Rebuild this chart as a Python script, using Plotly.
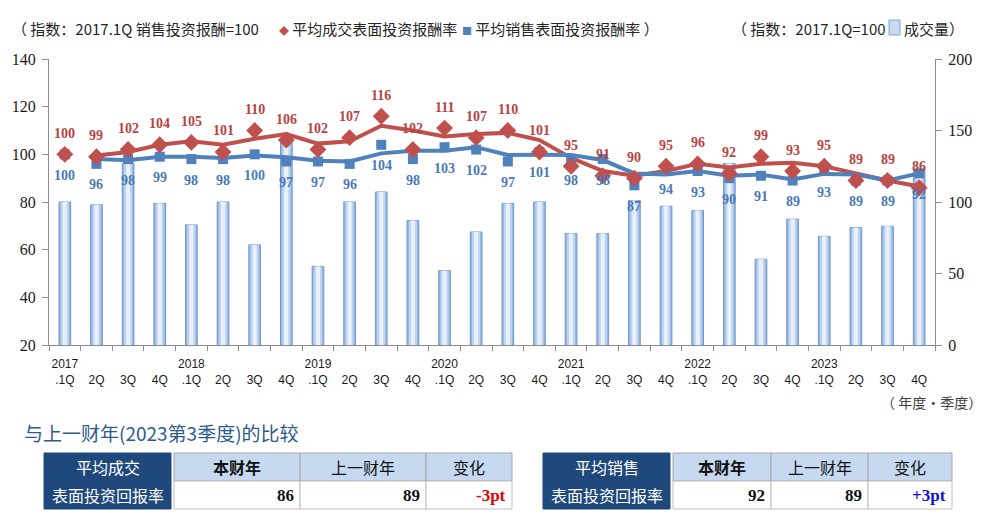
import plotly.graph_objects as go

# ---------------- data ----------------
years = ["2017", "2018", "2019", "2020", "2021", "2022", "2023"]
quarter_names = ["1Q", "2Q", "3Q", "4Q"]
categories = [f"{y}.{q}" for y in years for q in quarter_names]
tick_text = []
for y in years:
    tick_text += [f"{y}<br>.1Q", " <br>2Q", " <br>3Q", " <br>4Q"]

deal_rate = [100, 99, 102, 104, 105, 101, 110, 106, 102, 107, 116, 102, 111, 107,
             110, 101, 95, 91, 90, 95, 96, 92, 99, 93, 95, 89, 89, 86]
sale_rate = [100, 96, 98, 99, 98, 98, 100, 97, 97, 96, 104, 98, 103, 102,
             97, 101, 98, 98, 87, 94, 93, 90, 91, 89, 93, 89, 89, 92]
deal_trend = [None, 99.5, 101, 104, 105.5, 104, 106.5, 108.5, 104.5, 105.5, 112, 110, 107.5, 108.5,
              109, 106, 98.5, 93, 91, 93, 96, 94.5, 96, 96.5, 95, 92, 89, 86.5]
sale_trend = [None, 98, 97.5, 99, 99, 98.5, 99.5, 98.8, 97.3, 97, 100.4, 101.5, 101.5, 103,
              99.7, 99.8, 99.7, 97.6, 92, 91.5, 93, 91, 91.5, 89.5, 91.8, 91.5, 89, 92]
volume = [100, 98, 127, 99, 84, 100, 70, 144, 55, 100, 107, 87, 52, 79,
          99, 100, 78, 78, 101, 97, 94, 127, 60, 88, 76, 82, 83, 122]

left_ticks = [20, 40, 60, 80, 100, 120, 140]
right_ticks = [0, 50, 100, 150, 200]

table_headers = ["本财年", "上一财年", "变化"]
deal_table = ["86", "89", "-3pt"]
sale_table = ["92", "89", "+3pt"]

# ---------------- styles ----------------
RED = "#c0504d"
RED_TXT = "#b9433f"
BLUE = "#4f81bd"
BLUE_TXT = "#4a7ab5"
SERIF = "Liberation Serif"
SANS = "Liberation Sans"
CJK = "Noto Sans CJK SC"
W, H = 983, 529
ML, MR, MT, MB = 49, 48, 59, 184
PW, PH = W - ML - MR, H - MT - MB


def px(x):
    return (x - ML) / PW


def py(y):
    return (H - MB - y) / PH


fig = go.Figure()

# bars (primary y, drawn underneath), layered for a cylinder look
for wdt, col, lc in [(0.37, "#94b6e2", "#7099cf"), (0.26, "#bdd3ef", "rgba(0,0,0,0)"),
                     (0.13, "#e9f0fa", "rgba(0,0,0,0)")]:
    fig.add_trace(go.Bar(x=categories, y=volume, width=wdt, yaxis="y",
                         marker=dict(color=col, line=dict(color=lc, width=1)),
                         hoverinfo="skip"))

# lines (secondary y, drawn on top)
fig.add_trace(go.Scatter(x=categories, y=deal_trend, mode="lines", yaxis="y2",
                         line=dict(color=RED, width=4)))
fig.add_trace(go.Scatter(x=categories, y=sale_trend, mode="lines", yaxis="y2",
                         line=dict(color=BLUE, width=4)))
fig.add_trace(go.Scatter(x=categories, y=sale_rate, mode="markers", yaxis="y2",
                         marker=dict(symbol="square", size=10, color=BLUE)))
fig.add_trace(go.Scatter(x=categories, y=deal_rate, mode="markers", yaxis="y2",
                         marker=dict(symbol="diamond", size=13, color=RED)))

ann = []
for c, v in zip(categories, deal_rate):
    ann.append(dict(x=c, y=v, xref="x", yref="y2", text=str(v), showarrow=False,
                    xanchor="center", yanchor="middle",
                    yshift=21, font=dict(family=SERIF, size=14, color=RED_TXT, weight="bold")))
for c, v in zip(categories, sale_rate):
    ann.append(dict(x=c, y=v, xref="x", yref="y2", text=str(v), showarrow=False,
                    xanchor="center", yanchor="middle",
                    yshift=-21, font=dict(family=SERIF, size=14, color=BLUE_TXT, weight="bold")))


def note(x, y, text, font, xanchor="left"):
    ann.append(dict(x=px(x), y=py(y), xref="paper", yref="paper", xanchor=xanchor,
                    yanchor="middle", showarrow=False, font=font, text=text))


# header texts
hdr_font = dict(family=CJK, size=15, color="#262626")
note(10, 28, "（ 指数：2017.1Q 销售投资报酬=100", hdr_font)
note(277, 28, f"<span style='color:{RED};font-size:10px'>◆</span> 平均成交表面投资报酬率", hdr_font)
note(460, 28, f"<span style='color:{BLUE};font-size:10px'>■</span> 平均销售表面投资报酬率 ）", hdr_font)
note(730, 28, "（ 指数：2017.1Q=100", hdr_font)
note(902, 28, "成交量）", hdr_font)
note(984, 402, "（ 年度·季度）", dict(family=CJK, size=14, color="#404040"), xanchor="right")
note(22, 432, "与上一财年(2023第3季度)的比较", dict(family=CJK, size=19, color="#2e5a8a"))

shapes = []
# legend bar icon
shapes.append(dict(type="rect", xref="paper", yref="paper", x0=px(889), x1=px(900), y0=py(35), y1=py(20),
                   fillcolor="#c9daf0", line=dict(color="#7ea5d6", width=1)))


# tables
def add_table(x_dark0, x_dark1, col_edges, title1, title2, vals, change_color):
    y0, ym, y1 = 453, 481, 509
    shapes.append(dict(type="rect", xref="paper", yref="paper", x0=px(x_dark0), x1=px(x_dark1),
                       y0=py(y1), y1=py(y0), fillcolor="#1f497d", line=dict(color="#1f497d", width=1)))
    cx = (x_dark0 + x_dark1) / 2
    note(cx, 467, title1, dict(family=CJK, size=16, color="white"), xanchor="center")
    note(cx, 495, title2, dict(family=CJK, size=16, color="white"), xanchor="center")
    for i in range(3):
        a, b = col_edges[i], col_edges[i + 1]
        shapes.append(dict(type="rect", xref="paper", yref="paper", x0=px(a), x1=px(b),
                           y0=py(ym), y1=py(y0), fillcolor="#c6d9f1", line=dict(color="#a6a6a6", width=1)))
        shapes.append(dict(type="rect", xref="paper", yref="paper", x0=px(a), x1=px(b),
                           y0=py(y1), y1=py(ym), fillcolor="white", line=dict(color="#bfbfbf", width=1)))
        note((a + b) / 2, 467, table_headers[i],
             dict(family=CJK, size=16, color="#111111", weight="bold" if i == 0 else "normal"),
             xanchor="center")
        note(b - 4, 495, vals[i],
             dict(family=SERIF, size=17, weight="bold", color=change_color if i == 2 else "#111111"),
             xanchor="right")


add_table(44, 171, [174, 300, 426, 512], "平均成交", "表面投资回报率", deal_table, "#e00000")
add_table(543, 670, [673, 771, 868, 952], "平均销售", "表面投资回报率", sale_table, "#1010d0")

axis_col = "#8c8c8c"
fig.update_layout(
    width=W, height=H,
    margin=dict(l=ML, r=MR, t=MT, b=MB),
    paper_bgcolor="white", plot_bgcolor="white",
    showlegend=False, barmode="overlay",
    xaxis=dict(type="category", categoryorder="array", categoryarray=categories,
               range=[-0.5, len(categories) - 0.5],
               tickmode="array", tickvals=categories, ticktext=tick_text,
               tickson="boundaries", ticks="outside", ticklen=5, tickcolor=axis_col,
               showline=True, linecolor=axis_col, linewidth=1, showgrid=False,
               ticklabelstandoff=8,
               tickfont=dict(family=SANS, size=12, color="#1a1a1a"), tickangle=0),
    yaxis=dict(side="right", range=[0, 200], tickvals=right_ticks, ticks="outside", ticklen=6,
               tickcolor=axis_col, showline=True, linecolor=axis_col, linewidth=1,
               showgrid=False, zeroline=False, ticklabelstandoff=3,
               tickfont=dict(family=SERIF, size=16, color="#1a1a1a")),
    yaxis2=dict(overlaying="y", side="left", range=[20, 140], tickvals=left_ticks,
                ticks="outside", ticklen=6, tickcolor=axis_col, showline=True,
                linecolor=axis_col, linewidth=1, showgrid=False, zeroline=False,
                ticklabelstandoff=3,
                tickfont=dict(family=SERIF, size=16, color="#1a1a1a")),
    annotations=ann,
    shapes=shapes,
)

fig.write_html("out.html", config={"displayModeBar": False},
               post_script="document.body.style.margin='0px';")
